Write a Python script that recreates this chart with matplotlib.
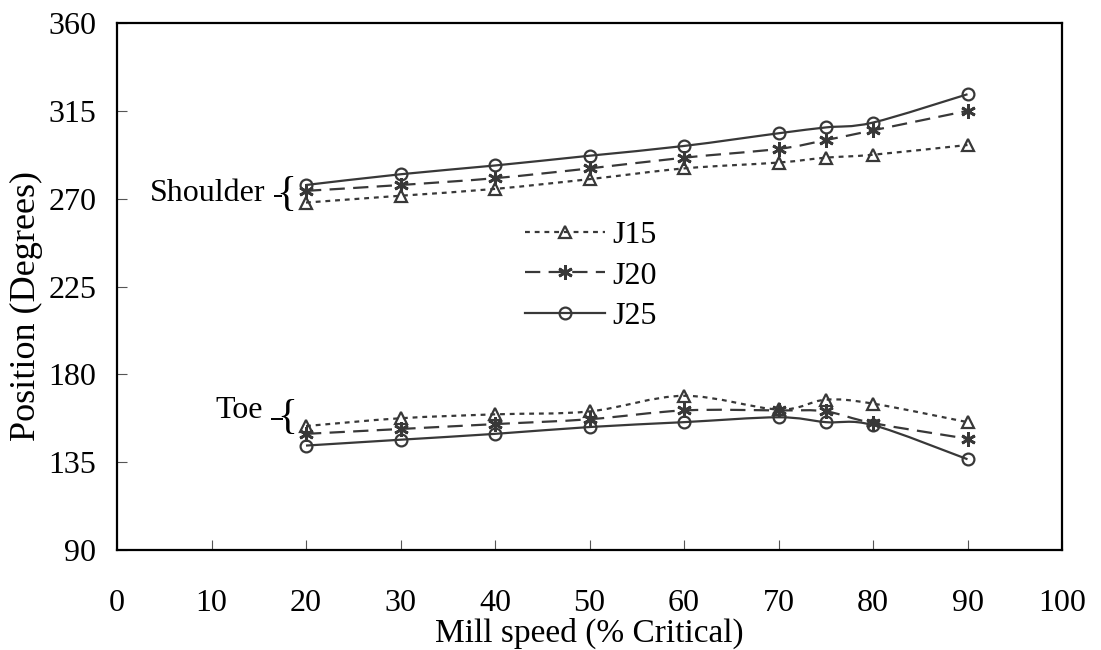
import numpy as np
import matplotlib
matplotlib.use('Agg')
import matplotlib.pyplot as plt
from matplotlib.path import Path
from matplotlib.patches import PathPatch
from matplotlib.lines import Line2D

# ---------------- data ----------------
speed = [20, 30, 40, 50, 60, 70, 75, 80, 90]
shoulder_j15 = [268, 271.5, 275, 280, 285.5, 288.5, 291, 292.5, 297.5]
shoulder_j20 = [274, 277, 280.5, 285.5, 291, 295.5, 300, 305, 315]
shoulder_j25 = [277, 282.5, 287, 292, 297, 303.5, 306.5, 309, 323.5]
toe_j15 = [153.5, 157.5, 159.5, 161, 169, 162, 167, 165, 155.5]
toe_j20 = [149.5, 152, 154.5, 157, 161.5, 161.5, 161, 155, 147]
toe_j25 = [143.5, 146.5, 149.5, 153, 155.5, 158, 155.5, 154, 136.5]
series_names = ['J15', 'J20', 'J25']
x_ticks = list(range(0, 101, 10))
y_ticks = list(range(90, 361, 45))

plt.rcParams['font.family'] = ['Liberation Serif', 'DejaVu Serif']
plt.rcParams['lines.scale_dashes'] = False

COL = '#383838'
FS = 23

fig = plt.figure(figsize=(11.01, 6.5), dpi=100)
ax = fig.add_axes([117/1101, 1-550/650, (1062-117)/1101, (550-23)/650])


def smooth_path(xs, ys):
    """Excel-style smoothed line as cubic Bezier path through the data points."""
    P = np.column_stack([xs, ys]).astype(float)
    n = len(P)
    verts = [P[0]]
    codes = [Path.MOVETO]
    for i in range(n - 1):
        p0 = P[i - 1] if i > 0 else P[i]
        p1 = P[i]
        p2 = P[i + 1]
        p3 = P[i + 2] if i + 2 < n else P[i + 1]
        c1 = p1 + (p2 - p0) / 6.0
        c2 = p2 - (p3 - p1) / 6.0
        verts += [c1, c2, p2]
        codes += [Path.CURVE4] * 3
    return Path(verts, codes)


styles = {
    'J15': dict(ls=(0, (3.5, 3.5)), marker='^', ms=8.5, mew=1.6),
    'J20': dict(ls=(0, (11, 6)), marker=(6, 2, 0), ms=10.5, mew=2.0),
    'J25': dict(ls='-', marker='o', ms=8.5, mew=1.6),
}

groups = [
    (shoulder_j15, shoulder_j20, shoulder_j25),
    (toe_j15, toe_j20, toe_j25),
]

LW = 1.6
for grp in groups:
    for name, ys in zip(series_names, grp):
        st = styles[name]
        patch = PathPatch(smooth_path(speed, ys), fill=False, edgecolor=COL,
                          lw=LW, linestyle=st['ls'], capstyle='butt', zorder=2)
        ax.add_patch(patch)
        ax.plot(speed, ys, linestyle='none', marker=st['marker'], ms=st['ms'],
                mfc='none', mec=COL, mew=st['mew'], zorder=3)

ax.set_xlim(0, 100)
ax.set_ylim(90, 360)
ax.set_xticks(x_ticks)
ax.set_yticks(y_ticks)
ax.tick_params(direction='in', length=7, width=0.8, color='#555555', labelsize=FS)
ax.tick_params(axis='x', pad=28)
ax.tick_params(axis='y', pad=15)
for sp in ax.spines.values():
    sp.set_linewidth(1.6)
    sp.set_color('black')

ax.set_xlabel('Mill speed (% Critical)', fontsize=24, labelpad=0)
ax.set_ylabel('Position (Degrees)', fontsize=26)
ax.yaxis.set_label_coords(-0.078, 0.463)

# annotations
ax.text(15.7, 272.9, 'Shoulder', fontsize=FS, ha='right', va='center')
ax.text(17.9, 272.0, '{', fontsize=30, ha='center', va='center')
ax.plot([16.6, 17.5], [271.5, 271.5], color='black', lw=1.4, solid_capstyle='butt')
ax.text(15.4, 161.7, 'Toe', fontsize=FS, ha='right', va='center')
ax.text(18.0, 158.0, '{', fontsize=30, ha='center', va='center')
ax.plot([16.3, 17.6], [157.0, 157.0], color='black', lw=1.4, solid_capstyle='butt')

handles = [Line2D([], [], color=COL, lw=LW, linestyle=styles[n]['ls'],
                  marker=styles[n]['marker'], ms=styles[n]['ms'],
                  mfc='none', mec=COL, mew=styles[n]['mew'])
           for n in series_names]
fig.legend(handles, series_names, loc='upper left',
           bbox_to_anchor=(525/1101, 1-221/650), bbox_transform=fig.transFigure,
           frameon=False, fontsize=FS, handlelength=2.5, handletextpad=0.22,
           labelspacing=0.34, borderpad=0, borderaxespad=0)

fig.savefig('out.png', dpi=100)
